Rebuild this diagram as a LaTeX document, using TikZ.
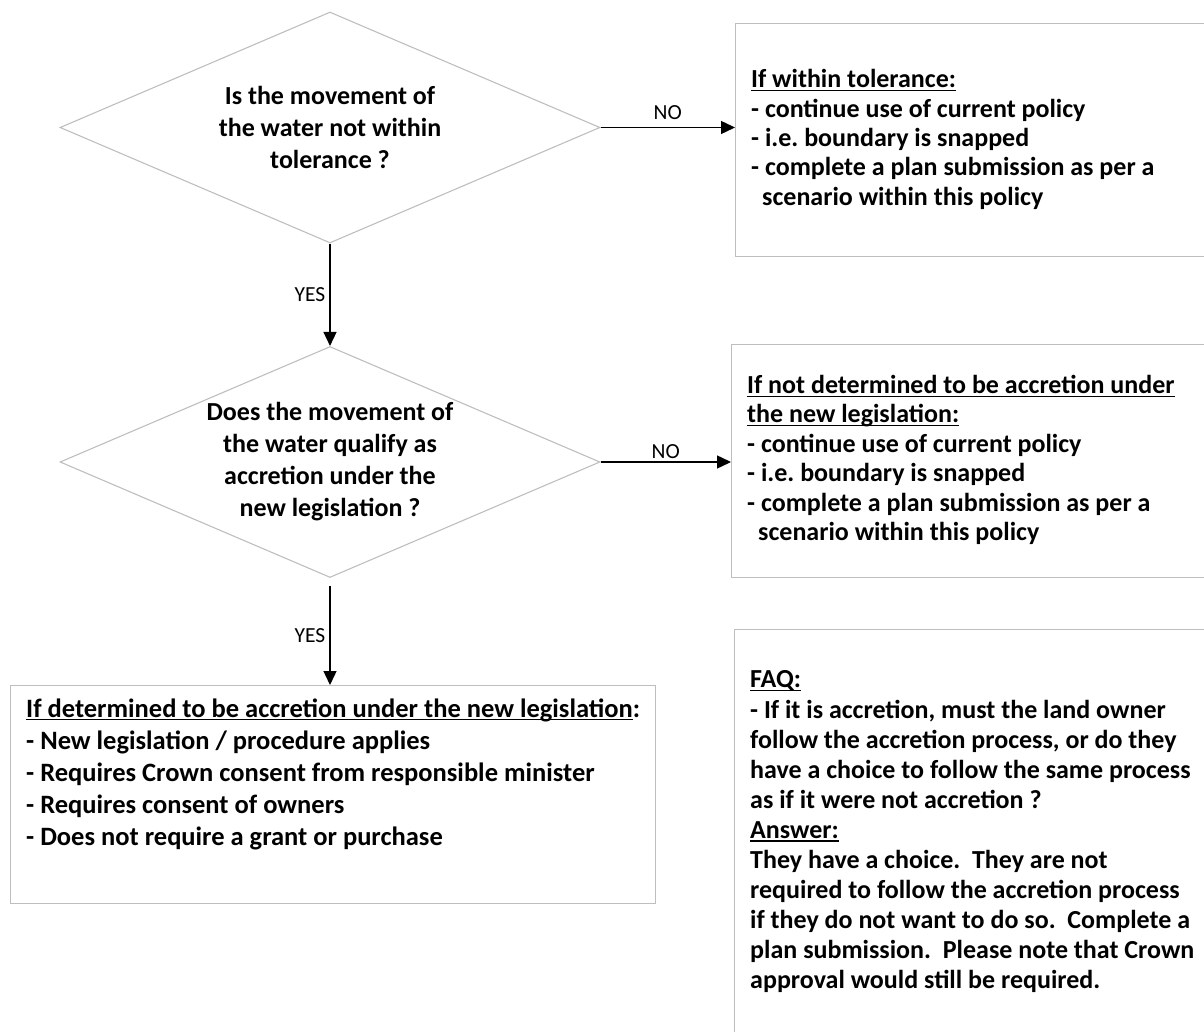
\documentclass[tikz,border=0pt]{standalone}
\usepackage{fontspec}
\setmainfont{Carlito}
\usetikzlibrary{shapes.geometric,arrows.meta}
\definecolor{edgegray}{RGB}{190,190,190}
\newsavebox\myulbox
\newcommand\myul[1]{\sbox\myulbox{#1}\rlap{\rule[-3.2pt]{\wd\myulbox}{1.3pt}}\usebox\myulbox}
\frenchspacing
\begin{document}
\begin{tikzpicture}[x=1pt,y=-1pt,
  decision/.style={shape=diamond, draw=edgegray, line width=1.1pt,
    minimum width=540pt, minimum height=231pt, aspect=2.338, inner sep=0pt,
    align=center, font=\bfseries\fontsize{26}{32}\selectfont},
  infobox/.style={draw=edgegray, line width=1.2pt, rectangle, inner sep=0pt, anchor=north west},
  boxtext/.style={inner sep=0pt, align=left, anchor=west},
  conn/.style={draw=black, line width=1.4pt, -{Triangle[length=14pt,width=13pt]}},
  lab/.style={inner sep=0pt, font=\fontsize{21.5}{24}\selectfont}
]
\useasboundingbox (0,0) rectangle (1204,1032);
\clip (0,0) rectangle (1204,1032);

% decisions
\node[decision] (d1) at (330,127.5) {Is the movement of\\the water not within\\tolerance ?};
\node[decision] (d2) at (330,462) {Does the movement of\\the water qualify as\\accretion under the\\new legislation ?};

% boxes
\node[infobox, minimum width=540pt, minimum height=233pt] (b1) at (735,23) {};
\node[infobox, minimum width=540pt, minimum height=233pt] (b2) at (731,344) {};
\node[infobox, minimum width=645pt, minimum height=218pt] (b3) at (10,685) {};
\node[infobox, minimum width=540pt, minimum height=420pt] (b4) at (734,629) {};

% texts
\node[boxtext, font=\bfseries\fontsize{26}{29.3}\selectfont] (t1) at (751,139.5) {%
\myul{If within tolerance:}\\
- continue use of current policy\\
- i.e. boundary is snapped\\
- complete a plan submission as per a\\
\hspace*{11pt}scenario within this policy};

\node[boxtext, font=\bfseries\fontsize{26}{29.4}\selectfont] (t2) at (747,460) {%
\myul{If not determined to be accretion under}\\
\myul{the new legislation:}\\
- continue use of current policy\\
- i.e. boundary is snapped\\
- complete a plan submission as per a\\
\hspace*{11pt}scenario within this policy};

\node[boxtext, font=\bfseries\fontsize{26.5}{32}\selectfont] (t3) at (26,774) {%
\myul{If determined to be accretion under the new legislation}:\\
- New legislation / procedure applies\\
- Requires Crown consent from responsible minister\\
- Requires consent of owners\\
- Does not require a grant or purchase};

\node[boxtext, font=\bfseries\fontsize{26}{30.1}\selectfont] (t4) at (750,832) {%
\myul{FAQ:}\\
- If it is accretion, must the land owner\\
follow the accretion process, or do they\\
have a choice to follow the same process\\
as if it were not accretion ?\\
\myul{Answer:}\\
They have a choice.\ \ They are not\\
required to follow the accretion process\\
if they do not want to do so.\ \ Complete a\\
plan submission.\ \ Please note that Crown\\
approval would still be required.};

% connectors
\draw[conn] (d1.east) -- node[lab, midway, above=7pt] (no1) {NO} (d1.east -| b1.west);
\draw[conn] (d2.east) -- node[lab, midway, above=3pt] (no2) {NO} (d2.east -| b2.west);
\draw[conn] (d1.south) -- node[lab, midway, left=4pt] (yes1) {YES} (d2.north);
\coordinate (d2out) at ([yshift=-8pt]d2.south);
\draw[conn] (d2out) -- node[lab, midway, left=4pt] (yes2) {YES} (d2out |- b3.north);
\end{tikzpicture}
\end{document}
